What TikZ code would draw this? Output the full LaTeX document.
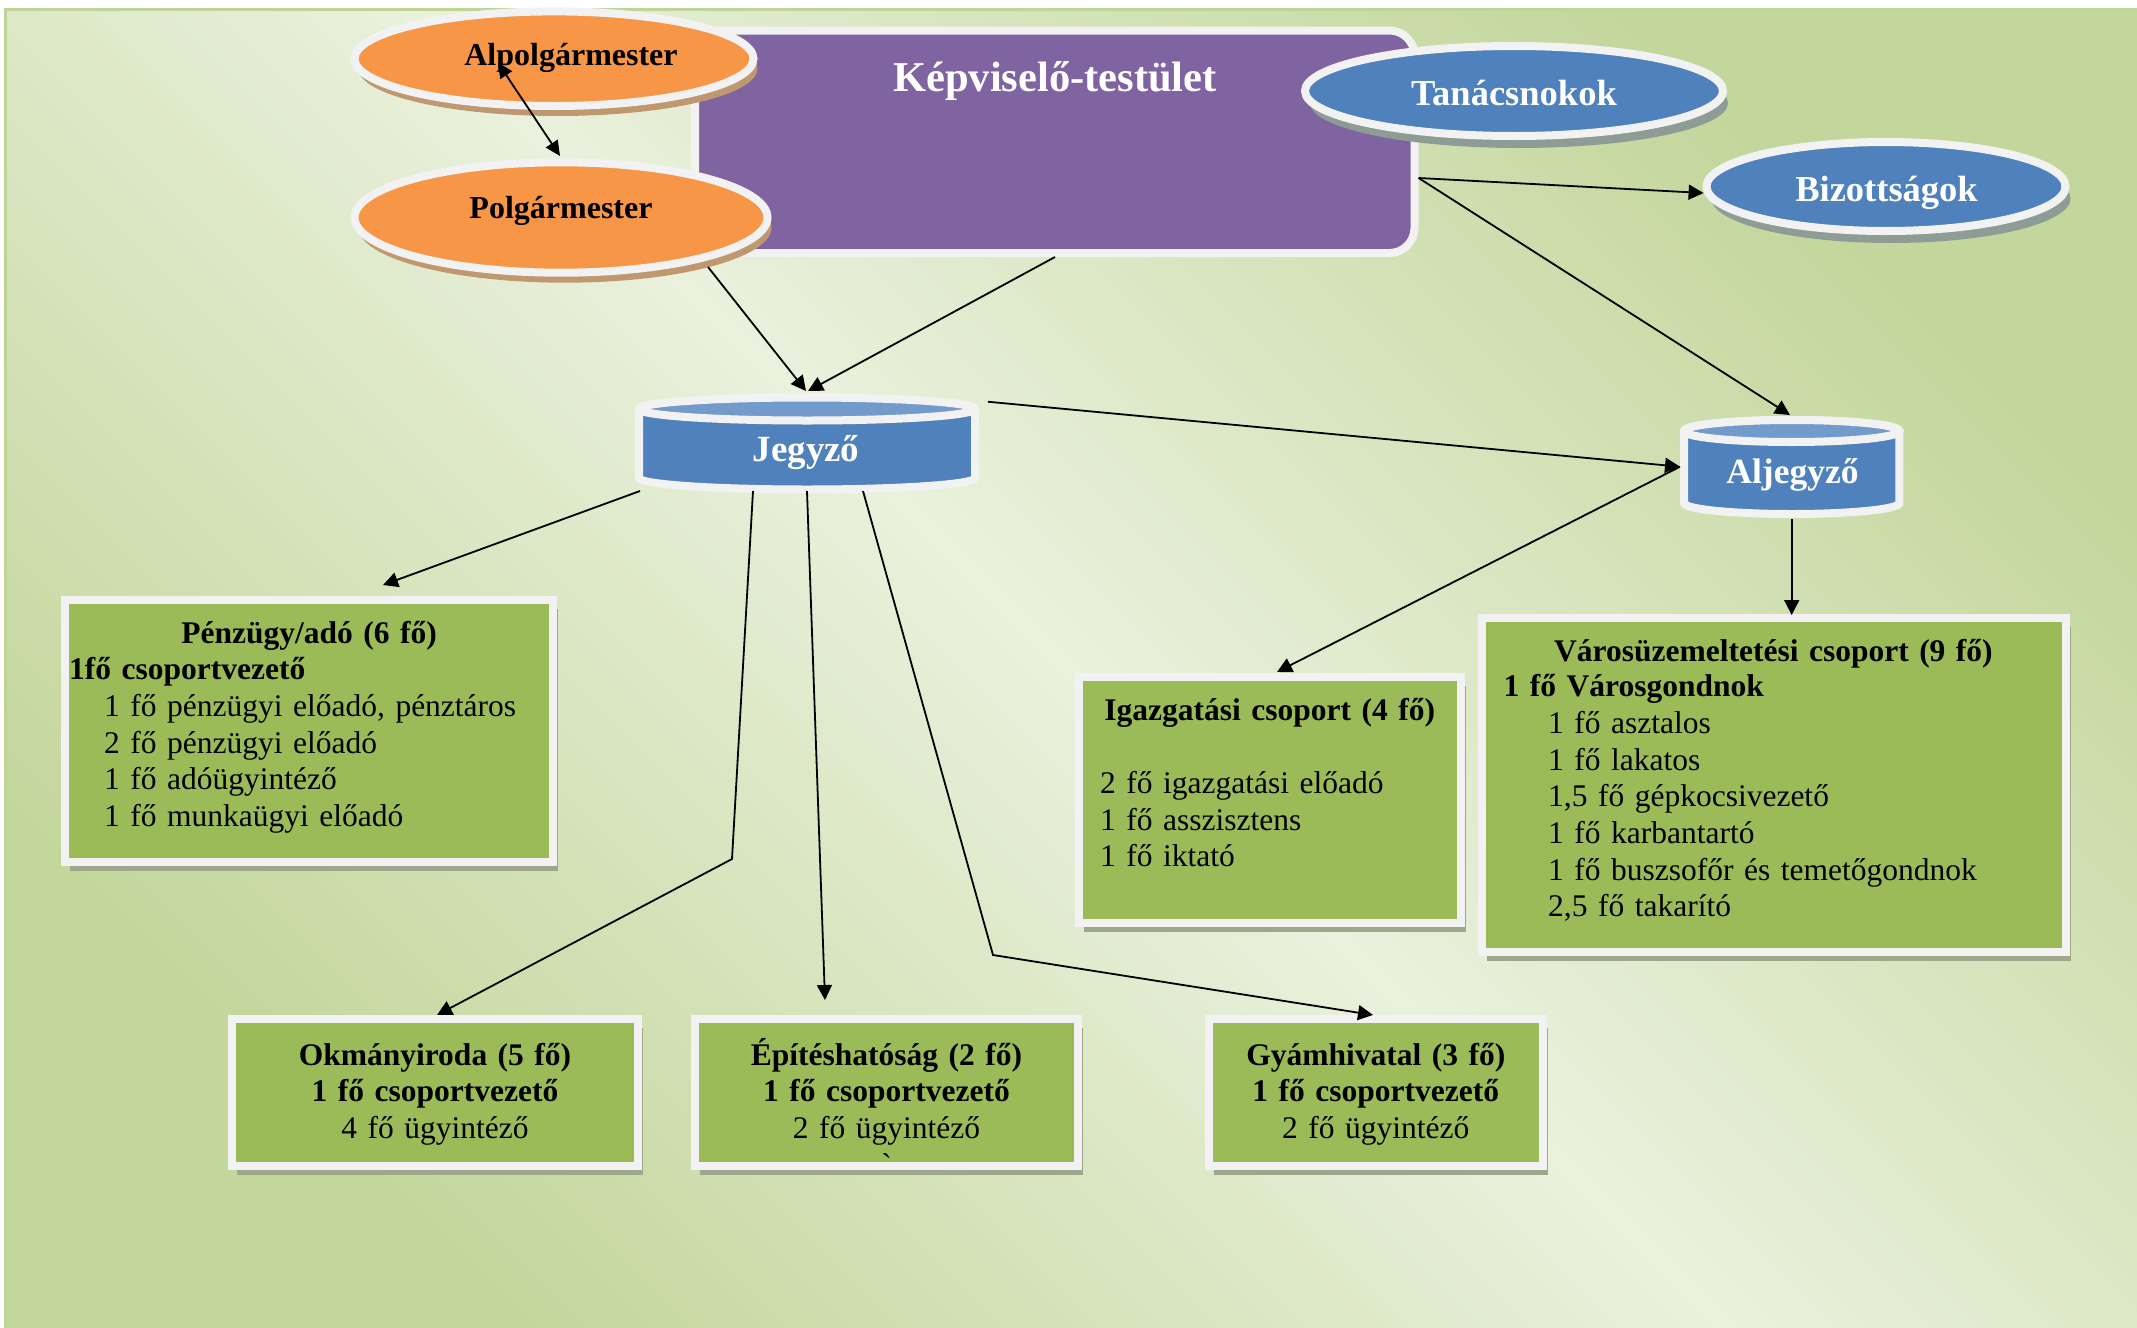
\documentclass[tikz,border=0pt]{standalone}
\usepackage{fontspec}
\setmainfont{Liberation Serif}
\usetikzlibrary{shapes.geometric,arrows.meta,calc,shadows}
\definecolor{bgg}{HTML}{C3D69B}
\definecolor{bgl}{HTML}{EAF1DD}
\definecolor{bgedge}{HTML}{BDD597}
\definecolor{orng}{HTML}{F79646}
\definecolor{purp}{HTML}{8064A2}
\definecolor{blu}{HTML}{4F81BD}
\definecolor{blulight}{HTML}{729ACA}
\definecolor{grn}{HTML}{9BBB59}
\definecolor{wbord}{HTML}{F2F2F2}
\definecolor{shbrown}{HTML}{C09870}
\definecolor{shblue}{HTML}{8E9C96}
\definecolor{shbox}{HTML}{9EA78C}
\begin{document}
\begin{tikzpicture}[x=1pt,y=-1pt,
  wb/.style={draw=wbord, line width=8pt},
  ell/.style={ellipse, wb, inner sep=0pt, outer sep=0pt},
  orell/.style={ell, fill=orng, drop shadow={shadow xshift=4pt, shadow yshift=-10pt, fill=shbrown, opacity=1}},
  blell/.style={ell, fill=blu, drop shadow={shadow xshift=5pt, shadow yshift=-12pt, fill=shblue, opacity=1}},
  grbox/.style={rectangle, wb, fill=grn, inner sep=0pt, outer sep=0pt, drop shadow={shadow xshift=5pt, shadow yshift=-9pt, fill=shbox, opacity=1}},
  anchorbox/.style={rectangle, inner sep=0pt, outer sep=0pt},
  conn/.style={line width=1.8pt, -{Triangle[length=15pt,width=15pt]}},
  biconn/.style={line width=1.8pt, {Triangle[length=15pt,width=14pt]}-{Triangle[length=15pt,width=14pt]}},
  boxfont/.style={font=\fontsize{31.5}{36.7}\selectfont},
  ltext/.style={boxfont, anchor=base west, align=left, inner sep=0pt},
  ctext/.style={boxfont, anchor=base, align=center, inner sep=0pt},
  eltext/.style={anchor=base, inner sep=0pt}
]
\useasboundingbox (0,0) rectangle (2137,1328);
% background
\fill[white] (0,0) rectangle (2137,1328);
\shade[top color=bgg, bottom color=bgg, middle color=bgl, shading angle=-45] (4,8) rectangle (2137,1328);
\draw[bgedge, line width=3pt] (5.5,1328) -- (5.5,9.5) -- (2137,9.5);

% Kepviselo-testulet
\node[rectangle, wb, fill=purp, rounded corners=25pt, minimum width=719.5pt, minimum height=222.5pt, inner sep=0pt, outer sep=0pt] (kt) at (1054.75,141.75) {};
\node[eltext, text=white, font=\bfseries\fontsize{42.5}{50}\selectfont] (ktt) at (1055,91.7) {Képviselő-testület};

% ellipses
\node[orell, minimum width=399pt, minimum height=94.6pt] (alpolg) at (554,58.7) {};
\node[eltext, font=\bfseries\fontsize{32}{38}\selectfont] (alpolgt) at (571,65) {Alpolgármester};
\node[orell, minimum width=413pt, minimum height=110.4pt] (polg) at (561,217.5) {};
\node[eltext, font=\bfseries\fontsize{32}{38}\selectfont] (polgt) at (561,218) {Polgármester};
\node[blell, minimum width=418pt, minimum height=90pt] (tan) at (1514,91) {};
\node[eltext, text=white, font=\bfseries\fontsize{36.5}{42}\selectfont] (tant) at (1514,105) {Tanácsnokok};
\node[blell, minimum width=359pt, minimum height=89pt] (biz) at (1886,186.5) {};
\node[eltext, text=white, font=\bfseries\fontsize{36.5}{42}\selectfont] (bizt) at (1886.5,201.5) {Bizottságok};

% cylinders
\path[fill=blu, wb] (639,409) -- (639,478) arc[start angle=180, end angle=0, x radius=168, y radius=11.5] -- (975,409) arc[start angle=0, end angle=-180, x radius=168, y radius=11.5] -- cycle;
\path[fill=blulight, wb] (807,409) ellipse [x radius=168, y radius=11.5];
\node[anchorbox, minimum width=336pt, minimum height=92.5pt] (jeg) at (807,443.75) {};
\node[eltext, text=white, font=\bfseries\fontsize{37}{42}\selectfont] (jegt) at (806,461) {Jegyző};

\path[fill=blu, wb] (1684,431) -- (1684,503) arc[start angle=180, end angle=0, x radius=107.7, y radius=11] -- (1899.4,431) arc[start angle=0, end angle=-180, x radius=107.7, y radius=11] -- cycle;
\path[fill=blulight, wb] (1791.7,431) ellipse [x radius=107.7, y radius=11];
\node[anchorbox, minimum width=215.4pt, minimum height=94pt] (alj) at (1791.7,467) {};
\node[eltext, text=white, font=\bfseries\fontsize{35.5}{42}\selectfont] (aljt) at (1792.5,483) {Aljegyző};

% green boxes
\node[grbox, minimum width=488pt, minimum height=262pt] (pen) at (309,731) {};
\node[ltext, text width=480pt] (pent) at (69,643) {\makebox[\linewidth][c]{\bfseries Pénzügy/adó (6 fő)}\\
\textbf{1fő csoportvezető}\\
\hspace*{35pt}1 fő pénzügyi előadó, pénztáros\\
\hspace*{35pt}2 fő pénzügyi előadó\\
\hspace*{35pt}1 fő adóügyintéző\\
\hspace*{35pt}1 fő munkaügyi előadó};

\node[grbox, minimum width=382pt, minimum height=246pt] (iga) at (1270,800) {};
\node[ltext, text width=373pt] (igat) at (1083,720) {\makebox[\linewidth][c]{\bfseries Igazgatási csoport (4 fő)}\\[36.7pt]
\hspace*{17pt}2 fő igazgatási előadó\\
\hspace*{17pt}1 fő asszisztens\\
\hspace*{17pt}1 fő iktató};

\node[grbox, minimum width=584pt, minimum height=334pt] (var) at (1774,785) {};
\node[ltext, text width=576.5pt] (vart) at (1485,661.7) {\makebox[\linewidth][c]{\bfseries Városüzemeltetési csoport (9 fő)}\\[-1.7pt]
\hspace*{18.5pt}\textbf{1 fő Városgondnok}\\
\hspace*{63pt}1 fő asztalos\\
\hspace*{63pt}1 fő lakatos\\
\hspace*{63pt}1,5 fő gépkocsivezető\\
\hspace*{63pt}1 fő karbantartó\\
\hspace*{63pt}1 fő buszsofőr és temetőgondnok\\
\hspace*{63pt}2,5 fő takarító};

\node[grbox, minimum width=406pt, minimum height=147pt] (okm) at (435,1092.5) {};
\node[ctext, text width=399pt] (okmt) at (435,1065) {\textbf{Okmányiroda (5 fő)}\\
\textbf{1 fő csoportvezető}\\
4 fő ügyintéző};

\node[grbox, minimum width=383pt, minimum height=147pt] (epi) at (886.5,1092.5) {};
\node[ctext, text width=377pt] (epit) at (886.5,1065) {\textbf{Építéshatóság (2 fő)}\\
\textbf{1 fő csoportvezető}\\
2 fő ügyintéző\\
\textasciigrave};

\node[grbox, minimum width=333.6pt, minimum height=147pt] (gya) at (1375.8,1092.5) {};
\node[ctext, text width=327pt] (gyat) at (1375.8,1065) {\textbf{Gyámhivatal (3 fő)}\\
\textbf{1 fő csoportvezető}\\
2 fő ügyintéző};

% connectors
\coordinate (b1) at (732,859);
\coordinate (b2) at (993,955);
\draw[biconn] ($(alpolg.center)+(-56,4)$) -- ($(polg.center)+(-1,-61.5)$);
\draw[conn] ($(polg.center)+(147,49.5)$) -- ($(jeg.center)+(-1,-52.75)$);
\draw[conn] ($(kt.center)+(0.25,115.25)$) -- ($(jeg.center)+(1,-52.75)$);
\draw[conn] ($(kt.center)+(363.85,36.25)$) -- ($(biz.center)+(-182.4,6.5)$);
\draw[conn] ($(kt.center)+(363.85,36.25)$) -- ($(alj.center)+(-1.7,-52)$);
\draw[conn] ($(jeg.center)+(181,-42)$) -- ($(alj.center)+(-111.7,-0.3)$);
\draw[conn] ($(alj.center)+(-111.7,-0.3)$) -- ($(iga.center)+(7,-128)$);
\draw[conn] ($(alj.center)+(0,52)$) -- ($(var.center)+(17.7,-170)$);
\draw[conn] ($(jeg.center)+(-167,47.25)$) -- ($(pen.center)+(74,-146)$);
\draw[conn] ($(jeg.center)+(-54,47.25)$) -- (b1) -- ($(okm.center)+(2,-77.5)$);
\draw[conn] ($(jeg.center)+(0,47.25)$) -- ($(epi.center)+(-61.5,-92.5)$);
\draw[conn] ($(jeg.center)+(56,47.25)$) -- (b2) -- ($(gya.center)+(-2.8,-77.5)$);
\end{tikzpicture}
\end{document}
